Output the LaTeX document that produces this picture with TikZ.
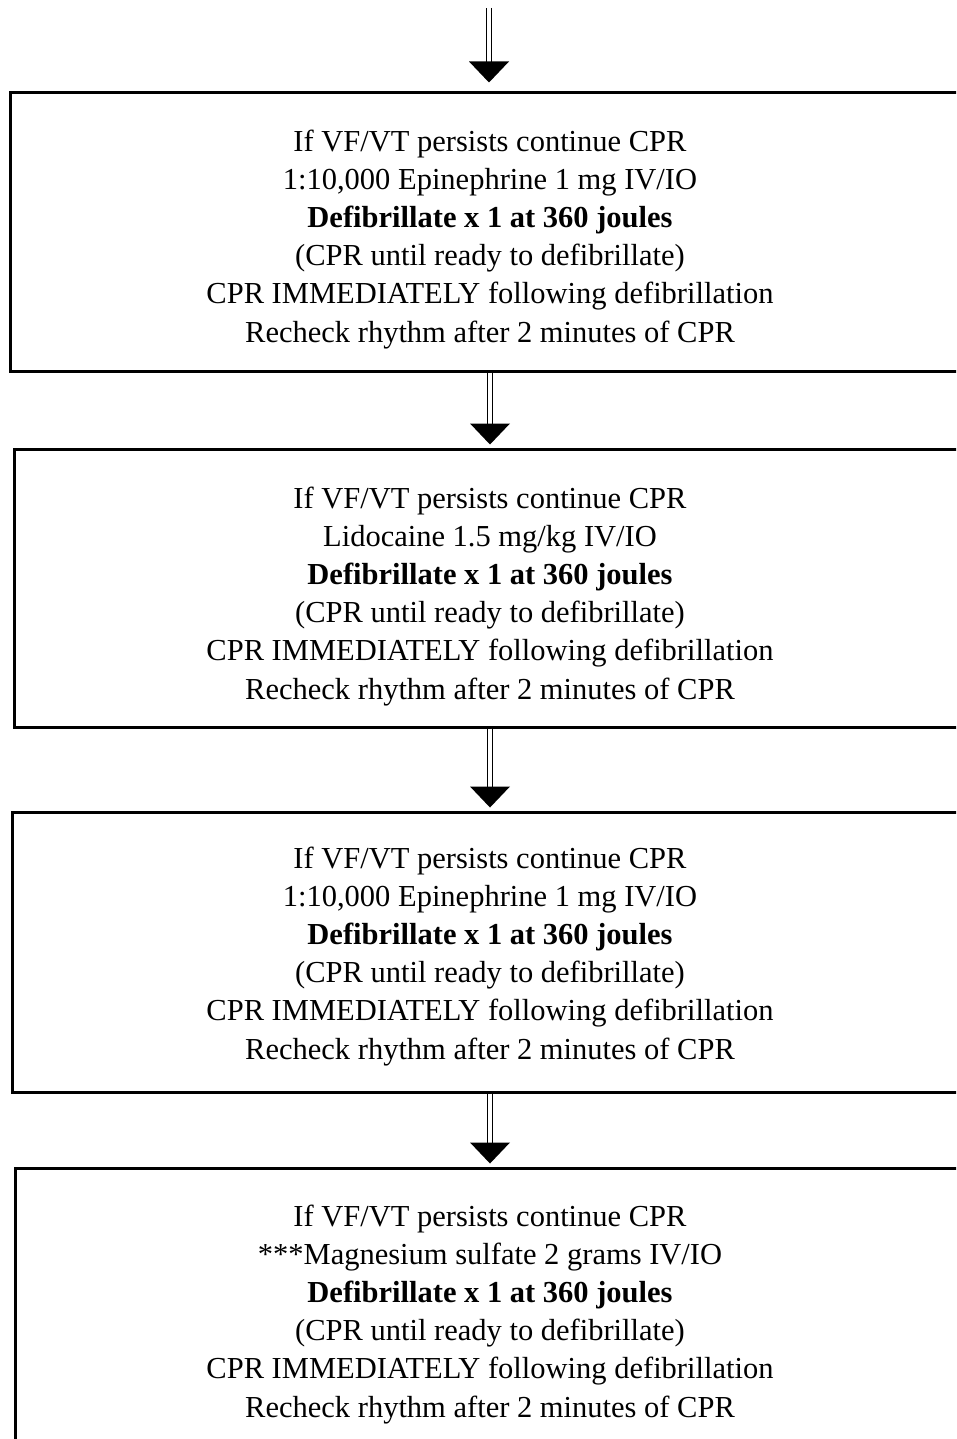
\documentclass[tikz,border=0pt]{standalone}
\usepackage{fontspec}
\setmainfont{Liberation Serif}
\usetikzlibrary{calc}
\tikzset{
  stepbox/.style={draw, line width=3pt, align=center, inner sep=0pt,
    font=\fontsize{30.5}{38.2}\selectfont},
  dblline/.style={draw, double, double distance=4.6pt, line width=1pt},
  tri/.style={fill=black}
}
\newcommand{\boxtext}[2]{\rule{0pt}{#1}If VF/VT persists continue CPR\\ #2\\ \textbf{Defibrillate x 1 at 360 joules}\\ (CPR until ready to defibrillate)\\ CPR IMMEDIATELY following defibrillation\\ Recheck rhythm after 2 minutes of CPR}
\begin{document}
\begin{tikzpicture}[x=1pt,y=-1pt]
\useasboundingbox (0,0) rectangle (956,1439);
\clip (0,0) rectangle (956,1439);
\node[stepbox, minimum width=960pt, minimum height=278pt] (b1) at (490,232) {\boxtext{35.6pt}{1:10,000 Epinephrine 1 mg IV/IO}};
\node[stepbox, minimum width=952pt, minimum height=278pt] (b2) at (490,588) {\boxtext{37.6pt}{Lidocaine 1.5 mg/kg IV/IO}};
\node[stepbox, minimum width=956pt, minimum height=280pt] (b3) at (490,952) {\boxtext{29.6pt}{1:10,000 Epinephrine 1 mg IV/IO}};
\node[stepbox, minimum width=950pt, minimum height=286pt] (b4) at (490,1311) {\boxtext{27.6pt}{***Magnesium sulfate 2 grams IV/IO}};
\coordinate (top) at (489,8);
% arrows
\path[dblline] (top) -- ($(b1.north)+(-1,-29)$);
\fill[tri] ($(b1.north)+(-1,-9)$) -- ++(-20,-21) -- ++(40,0) -- cycle;
\foreach \a/\b in {b1/b2,b2/b3,b3/b4}{
  \path[dblline] (\a.south) -- ($(\b.north)+(0,-23)$);
  \fill[tri] ($(\b.north)+(0,-3)$) -- ++(-20,-21) -- ++(40,0) -- cycle;
}
\end{tikzpicture}
\end{document}
